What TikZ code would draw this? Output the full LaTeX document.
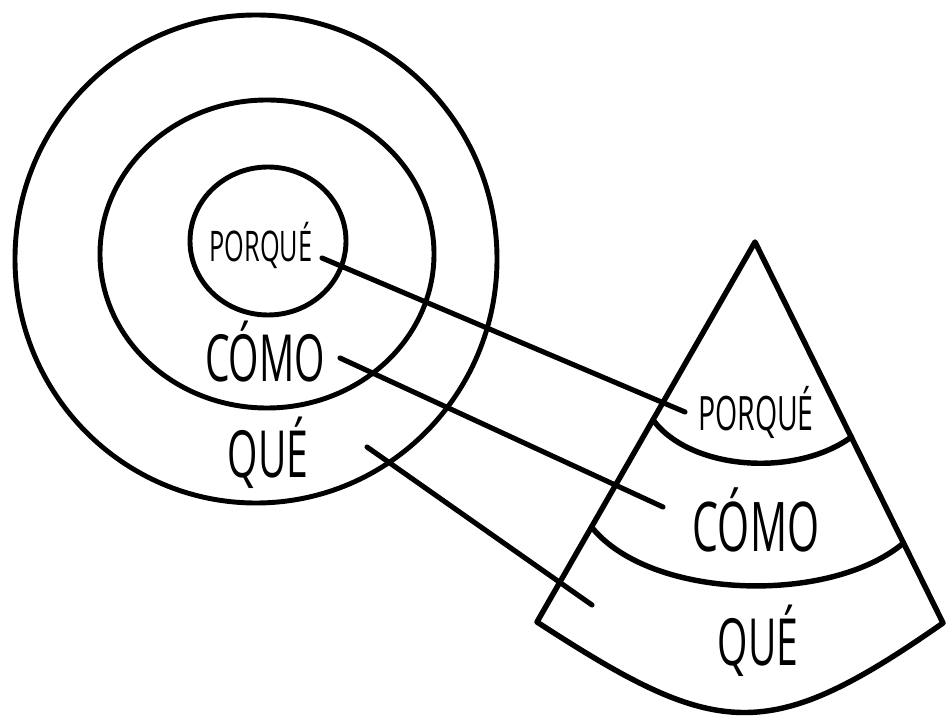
\documentclass[tikz,border=0pt]{standalone}
\usepackage{fontspec}
\newfontfamily\handfont[FakeStretch=0.6]{Open Sans}
\usetikzlibrary{calc}

\begin{document}
\begin{tikzpicture}[
  x=0.02cm, y=-0.02cm,
  ring/.style={draw, line width=2.8pt},
  cone/.style={draw, line width=3.1pt, line join=round},
  band/.style={draw, line width=3.1pt, line cap=round},
  link/.style={line width=2.9pt, line cap=round},
  word/.style={inner sep=0pt, anchor=base, font=\handfont\fontsize{#1}{#1}\selectfont},
]
  \useasboundingbox (0,0) rectangle (947,719);

  % golden circle
  \draw[ring] (256,259) ellipse [x radius=241, y radius=244];
  \draw[ring] (267,254) ellipse [x radius=167, y radius=154];
  \draw[ring] (268,241) ellipse [x radius=78, y radius=74];

  \node[word=24] (why-in) at (261,262) {PORQUÉ};
  \node[word=37] (how-in) at (265,382) {CÓMO};
  \node[word=37] (what-in) at (268,478) {QUÉ};

  % cone
  \coordinate (apex) at (755,242);
  \coordinate (bl) at (537,622);
  \coordinate (br) at (943,623);
  \draw[cone] (bl) -- (apex) -- (br) .. controls (767,746) and (717,739) .. cycle;
  \draw[band] ($(apex)!0.468!(bl)$) .. controls (690,470) and (795,478) .. ($(apex)!0.512!(br)$);
  \draw[band] ($(apex)!0.750!(bl)$) .. controls (650,600) and (830,605) .. ($(apex)!0.790!(br)$);

  \node[word=27] (why-cone) at (756,431) {PORQUÉ};
  \node[word=39] (how-cone) at (756,551) {CÓMO};
  \node[word=37] (what-cone) at (758,665) {QUÉ};

  % connectors
  \coordinate (why-a) at (322,258);
  \coordinate (why-b) at (685,412);
  \coordinate (how-a) at (340,358);
  \coordinate (how-b) at (663,507);
  \coordinate (what-a) at (367,447);
  \coordinate (what-b) at (592,605);
  \draw[link] (why-a) -- (why-b);
  \draw[link] (how-a) -- (how-b);
  \draw[link] (what-a) -- (what-b);
\end{tikzpicture}
\end{document}
